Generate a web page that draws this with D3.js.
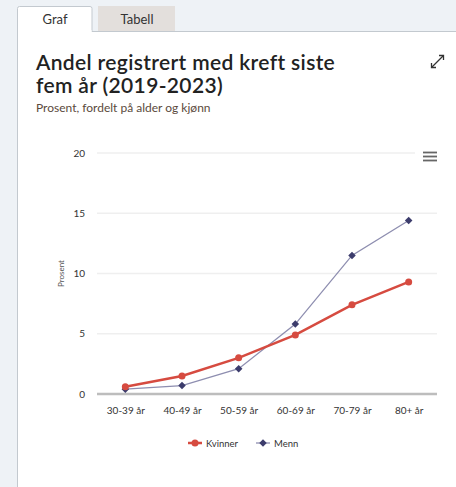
<!DOCTYPE html>
<html>
<head>
<meta charset="utf-8">
<script src="https://cdn.jsdelivr.net/npm/d3@7"></script>
<style>
  body { margin: 0; background: #eef2f6; }
  #wrapper { width: 456px; height: 487px; }
  text { font-family: Lato, "Open Sans", sans-serif; }
</style>
</head>
<body>
<div id="wrapper"></div>
<script>
// chart data
const ageGroups = ["30-39 år", "40-49 år", "50-59 år", "60-69 år", "70-79 år", "80+ år"]
const kvinner = [0.6, 1.5, 3.0, 4.9, 7.4, 9.3]
const menn = [0.4, 0.7, 2.1, 5.8, 11.5, 14.4]
const yTicks = [0, 5, 10, 15, 20]
const seriesNames = ["Kvinner", "Menn"]

const colors = { kvinner: "#d64b40", menn: "#3c3c6c", mennLine: "#8e8eb0" }

const dimensions = {
  width: 456,
  height: 487,
  margin: { top: 153, right: 19, bottom: 93, left: 97 },
}
dimensions.boundedWidth = dimensions.width - dimensions.margin.left - dimensions.margin.right
dimensions.boundedHeight = dimensions.height - dimensions.margin.top - dimensions.margin.bottom

const svg = d3.select("#wrapper")
  .append("svg")
    .attr("width", dimensions.width)
    .attr("height", dimensions.height)

// tabs + panel
svg.append("rect")
    .attr("x", 17.5).attr("y", 31.5)
    .attr("width", 460).attr("height", 480)
    .attr("fill", "#fff").attr("stroke", "#c3c9cf")
svg.append("rect")
    .attr("x", 98).attr("y", 6)
    .attr("width", 77).attr("height", 25)
    .attr("fill", "#e3dfdc")
svg.append("path")
    .attr("d", "M17.5,32 V8.5 Q17.5,6.5 19.5,6.5 H90 Q92,6.5 92,8.5 V32")
    .attr("fill", "#fff").attr("stroke", "#c3c9cf")
svg.append("rect")
    .attr("x", 18).attr("y", 30).attr("width", 73.5).attr("height", 3)
    .attr("fill", "#fff")
svg.append("text")
    .attr("x", 55).attr("y", 24)
    .attr("text-anchor", "middle")
    .attr("font-size", 13).attr("fill", "#333")
    .text("Graf")
svg.append("text")
    .attr("x", 137).attr("y", 24)
    .attr("text-anchor", "middle")
    .attr("font-size", 13).attr("fill", "#333")
    .text("Tabell")

// titles
const title = svg.append("text")
    .attr("font-family", "'Open Sans', sans-serif")
    .attr("font-size", 21).attr("font-weight", 600).attr("fill", "#222")
    .attr("letter-spacing", 0.35)
title.append("tspan").attr("x", 36).attr("y", 70).text("Andel registrert med kreft siste")
title.append("tspan").attr("x", 36).attr("y", 93).text("fem år (2019-2023)")
svg.append("text")
    .attr("x", 36).attr("y", 112)
    .attr("font-size", 12).attr("fill", "#5b4a3c")
    .text("Prosent, fordelt på alder og kjønn")

// expand icon
const expand = svg.append("g")
    .attr("stroke", "#333").attr("stroke-width", 1.3).attr("fill", "none")
expand.append("path").attr("d", "M432,67 L443,56")
expand.append("path").attr("d", "M439,55.5 H443.5 V60")
expand.append("path").attr("d", "M431.5,63 V67.5 H436")

// menu icon
const menu = svg.append("g").attr("stroke", "#666").attr("stroke-width", 1.8)
;[152.5, 156.5, 160.5].forEach(y => {
  menu.append("line").attr("x1", 423).attr("x2", 437).attr("y1", y).attr("y2", y)
})

const bounds = svg.append("g")
    .attr("transform", `translate(${dimensions.margin.left}, ${dimensions.margin.top})`)

// scales
const xScale = d3.scalePoint()
  .domain(ageGroups)
  .range([0, dimensions.boundedWidth])
  .padding(0.5)

const yScale = d3.scaleLinear()
  .domain([0, 20])
  .range([dimensions.boundedHeight, 0])

// gridlines
bounds.append("g")
  .selectAll("line")
  .data(yTicks.filter(d => d > 0))
  .join("line")
    .attr("x1", 0).attr("x2", d => d == 20 ? dimensions.boundedWidth - 22 : dimensions.boundedWidth)
    .attr("y1", d => yScale(d)).attr("y2", d => yScale(d))
    .attr("stroke", "#efefef").attr("stroke-width", 1.3)

// y axis
const yAxis = bounds.append("g")
  .call(d3.axisLeft(yScale).tickValues(yTicks).tickSize(0).tickPadding(12))
yAxis.select(".domain").remove()
yAxis.selectAll("text")
    .attr("font-family", "Lato, sans-serif")
    .attr("font-size", 10).attr("fill", "#333")

bounds.append("text")
    .attr("transform", `translate(${-33}, ${dimensions.boundedHeight / 2}) rotate(-90)`)
    .attr("text-anchor", "middle")
    .attr("font-size", 8).attr("fill", "#555")
    .text("Prosent")

// x axis
const xAxis = bounds.append("g")
    .attr("transform", `translate(0, ${dimensions.boundedHeight})`)
  .call(d3.axisBottom(xScale).tickSize(0).tickPadding(13))
xAxis.select(".domain")
    .attr("stroke", "#bdbdbd").attr("stroke-width", 2.5)
    .attr("d", `M0,0H${dimensions.boundedWidth}`)
xAxis.selectAll("text")
    .attr("font-family", "Lato, sans-serif")
    .attr("font-size", 10).attr("fill", "#333")

// lines
const lineGenerator = d3.line()
  .x((d, i) => xScale(ageGroups[i]))
  .y(d => yScale(d))

bounds.append("path")
    .attr("d", lineGenerator(menn))
    .attr("fill", "none")
    .attr("stroke", colors.mennLine).attr("stroke-width", 1.3)

bounds.append("path")
    .attr("d", lineGenerator(kvinner))
    .attr("fill", "none")
    .attr("stroke", colors.kvinner).attr("stroke-width", 2.5)

const diamond = d3.symbol().type(d3.symbolDiamond2).size(36)

bounds.append("g")
  .selectAll("path")
  .data(menn)
  .join("path")
    .attr("d", diamond)
    .attr("transform", (d, i) => `translate(${xScale(ageGroups[i])}, ${yScale(d)})`)
    .attr("fill", colors.menn)

bounds.append("g")
  .selectAll("circle")
  .data(kvinner)
  .join("circle")
    .attr("cx", (d, i) => xScale(ageGroups[i]))
    .attr("cy", d => yScale(d))
    .attr("r", 3.5)
    .attr("fill", colors.kvinner)

// legend
const legendY = 443
const legend = svg.append("g")
const lk = legend.append("g").attr("transform", `translate(188, ${legendY})`)
lk.append("line").attr("x1", 0).attr("x2", 14).attr("stroke", colors.kvinner).attr("stroke-width", 2.5)
lk.append("circle").attr("cx", 7).attr("r", 3.5).attr("fill", colors.kvinner)
lk.append("text").attr("x", 18).attr("y", 3.5)
    .attr("font-size", 9.5).attr("fill", "#333").text(seriesNames[0])

const lm = legend.append("g").attr("transform", `translate(256, ${legendY})`)
lm.append("line").attr("x1", 0).attr("x2", 14).attr("stroke", colors.mennLine).attr("stroke-width", 1.3)
lm.append("path").attr("d", diamond).attr("transform", "translate(7,0)").attr("fill", colors.menn)
lm.append("text").attr("x", 18).attr("y", 3.5)
    .attr("font-size", 9.5).attr("fill", "#333").text(seriesNames[1])
</script>
</body>
</html>
